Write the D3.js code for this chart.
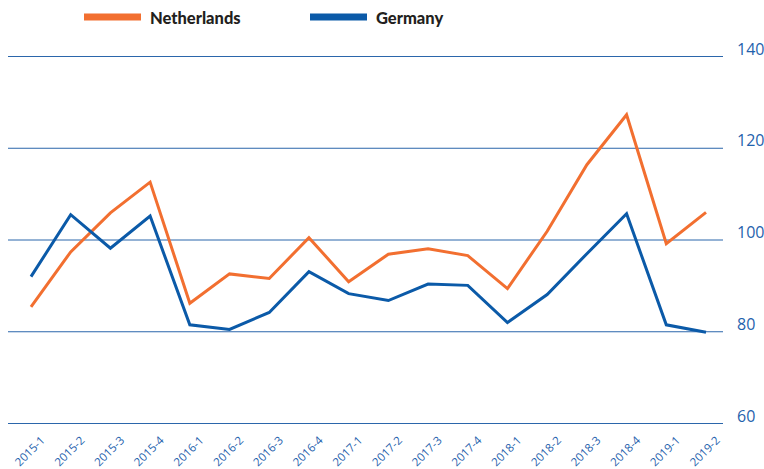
<!DOCTYPE html>
<html>
<head>
<meta charset="utf-8">
<script src="https://cdn.jsdelivr.net/npm/d3@7"></script>
<style>
  body { margin: 0; background: #fff; }
  svg { display: block; }
  .tick text { font-family: "Open Sans", sans-serif; fill: #1f62ad; }
  .legend text { font-family: Lato, sans-serif; font-weight: 900; font-size: 16.5px; fill: #231f20; }
</style>
</head>
<body>
<div id="chart"></div>
<script>
// quarters along the bottom
var quarters = ["2015-1","2015-2","2015-3","2015-4","2016-1","2016-2","2016-3","2016-4",
                "2017-1","2017-2","2017-3","2017-4","2018-1","2018-2","2018-3","2018-4",
                "2019-1","2019-2"];
var netherlands = [85.3, 97.3, 105.8, 112.5, 86.1, 92.5, 91.5, 100.4, 90.8, 96.8, 98.0, 96.5,
                   89.3, 101.8, 116.3, 127.2, 99.1, 105.9];
var germany = [91.9, 105.4, 98.1, 105.1, 81.4, 80.4, 84.1, 93.0, 88.2, 86.7, 90.3, 90.0,
               81.9, 88.0, 96.9, 105.6, 81.4, 79.8];
var yTicks = [60, 80, 100, 120, 140];

var W = 764, H = 469;
var svg = d3.select("#chart").append("svg").attr("width", W).attr("height", H);

var x = d3.scalePoint().domain(quarters).range([31, 706]);
var y = d3.scaleLinear().domain([60, 140]).range([423, 56]);

// grid + right labels
var yAxis = d3.axisRight(y).tickValues(yTicks).tickSize(715).tickPadding(14);
var gy = svg.append("g").attr("transform", "translate(8,0)").call(yAxis);
gy.select(".domain").remove();
gy.selectAll(".tick line").attr("stroke", "#2b66ab").attr("stroke-width", 1);
gy.selectAll(".tick text").attr("font-size", 16).attr("dy", "-0.12em");

// bottom labels
var xAxis = d3.axisBottom(x).tickSize(0);
var gx = svg.append("g").attr("transform", "translate(0,441)").call(xAxis);
gx.select(".domain").remove();
gx.selectAll(".tick text")
    .attr("font-size", 11.5)
    .attr("text-anchor", "end")
    .attr("dy", 0)
    .attr("transform", "translate(12,-2) rotate(-45)");

var line = d3.line()
    .x(function(d, i) { return x(quarters[i]); })
    .y(function(d) { return y(d); });

var series = [
  {name: "Netherlands", values: netherlands, color: "#f26f30"},
  {name: "Germany", values: germany, color: "#0b5aa8"}
];

svg.selectAll(".series").data(series).enter().append("path")
    .attr("class", "series")
    .attr("d", function(d) { return line(d.values); })
    .attr("fill", "none")
    .attr("stroke", function(d) { return d.color; })
    .attr("stroke-width", 3)
    .attr("stroke-linejoin", "miter");

// legend
var legend = svg.append("g").attr("class", "legend");
var lx = [84, 310];
series.forEach(function(s, i) {
  legend.append("line")
      .attr("x1", lx[i]).attr("x2", lx[i] + 57)
      .attr("y1", 17).attr("y2", 17)
      .attr("stroke", s.color).attr("stroke-width", 7);
  legend.append("text")
      .attr("x", lx[i] + 66).attr("y", 24)
      .text(s.name);
});
</script>
</body>
</html>
